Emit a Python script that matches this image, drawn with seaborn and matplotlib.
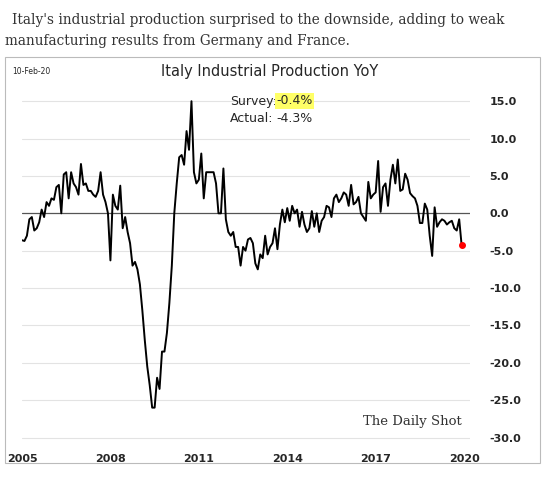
import numpy as np
import pandas as pd
import seaborn as sns
import matplotlib.pyplot as plt
from matplotlib.patches import Rectangle

# monthly YoY %, Jan 2005 .. Dec 2019
y2005 = [-3.6, -3.7, -3.0, -0.8, -0.5, -2.3, -2.0, -1.2, 0.5, -0.5, 1.5, 1.0]
y2006 = [2.0, 1.8, 3.5, 3.8, 0.0, 5.2, 5.5, 2.0, 5.5, 4.0, 3.5, 2.5]
y2007 = [6.6, 3.8, 4.0, 3.0, 3.0, 2.5, 2.2, 3.0, 5.5, 2.5, 1.5, 0.0]
y2008 = [-6.3, 2.5, 1.0, 0.5, 3.7, -2.0, -0.5, -2.5, -4.0, -7.0, -6.5, -7.5]
y2009 = [-9.5, -13.0, -17.0, -20.5, -23.0, -26.0, -26.0, -22.0, -23.5, -18.5, -18.5, -16.0]
y2010 = [-12.0, -7.0, 0.0, 4.0, 7.5, 7.8, 6.5, 11.0, 8.5, 15.0, 5.5, 4.0]
y2011 = [4.5, 8.0, 2.0, 5.5, 5.5, 5.5, 5.5, 4.0, 0.0, 0.0, 6.0, -0.8]
y2012 = [-2.5, -3.0, -2.5, -4.5, -4.5, -7.0, -4.5, -5.0, -3.5, -3.3, -4.0, -6.7]
y2013 = [-7.5, -5.5, -6.0, -3.0, -5.5, -4.5, -4.0, -2.0, -4.8, -1.5, 0.5, -1.2]
y2014 = [0.7, -1.0, 1.0, 0.0, 0.5, -1.8, 0.2, -1.5, -2.5, -2.0, 0.3, -1.8]
y2015 = [0.0, -2.5, -1.0, -0.5, 1.0, 0.8, -0.5, 2.0, 2.5, 1.5, 2.0, 2.8]
y2016 = [2.5, 1.0, 3.8, 1.2, 1.5, 2.2, 0.0, -0.5, -1.0, 4.2, 2.0, 2.5]
y2017 = [2.8, 7.0, 0.2, 3.5, 4.0, 1.0, 4.5, 6.5, 4.0, 7.2, 3.0, 3.2]
y2018 = [5.3, 4.5, 2.7, 2.3, 2.0, 1.0, -1.3, -1.3, 1.3, 0.5, -3.0, -5.7]
y2019 = [0.8, -1.8, -1.2, -0.8, -1.0, -1.5, -1.2, -1.0, -2.0, -2.3, -0.8, -4.3]

values = (y2005 + y2006 + y2007 + y2008 + y2009 + y2010 + y2011 + y2012 +
          y2013 + y2014 + y2015 + y2016 + y2017 + y2018 + y2019)
years = 2005 + np.arange(len(values)) / 12.0
df = pd.DataFrame({"t": years, "yoy": values})

sns.set_style("white")
plt.rcParams['font.family'] = ['DejaVu Sans']

fig = plt.figure(figsize=(5.49, 5.04), dpi=100)
W, H = 549, 504

fig.text(12 / W, 1 - 20 / H, "Italy's industrial production surprised to the downside, adding to weak",
         family='DejaVu Serif', fontsize=9.8, color='#333333', va='center')
fig.text(5 / W, 1 - 41 / H, "manufacturing results from Germany and France.",
         family='DejaVu Serif', fontsize=9.8, color='#333333', va='center')

fig.patches.append(Rectangle((5 / W, 1 - 463 / H), 535 / W, 406 / H, transform=fig.transFigure,
                             fill=False, edgecolor='#bbbbbb', lw=0.8))

ax = fig.add_axes([22 / W, 1 - 445 / H, 448 / W, 355 / H])
sns.lineplot(data=df, x="t", y="yoy", color='black', lw=1.4, ax=ax)
ax.plot(df["t"].iloc[-1], df["yoy"].iloc[-1], 'o', color='red', ms=4, zorder=5)

ax.set_xlim(2005, 2020.2)
ax.set_ylim(-31, 16.5)
ax.set_yticks(np.arange(-30, 16, 5))
ax.set_yticklabels([f"{v:.1f}" for v in np.arange(-30, 16, 5)], fontsize=8, fontweight='bold')
ax.yaxis.tick_right()
ax.tick_params(axis='y', length=0, pad=14)
ax.set_xticks([2005, 2008, 2011, 2014, 2017, 2020])
ax.set_xticklabels(['2005', '2008', '2011', '2014', '2017', '2020'], fontsize=8, fontweight='bold')
ax.tick_params(axis='x', length=3, color='#555555', direction='out')
for v in np.arange(-30, 16, 5):
    if v != 0:
        ax.axhline(v, color='#e3e3e3', lw=0.8, zorder=0)
ax.axhline(0, color='#555555', lw=0.9, zorder=1)
for s in ax.spines.values():
    s.set_visible(False)
ax.set_xlabel('')
ax.set_ylabel('')

fig.text(270 / W, 1 - 72 / H, "Italy Industrial Production YoY", ha='center', va='center', fontsize=10.5)
fig.text(12 / W, 1 - 72 / H, "10-Feb-20", ha='left', va='center', fontsize=5.5)
fig.text(230 / W, 1 - 101 / H, "Survey:", fontsize=9, va='center')
fig.text(276 / W, 1 - 101 / H, "-0.4%", fontsize=9, va='center',
         bbox=dict(facecolor='#ffff66', edgecolor='none', pad=1))
fig.text(230 / W, 1 - 118 / H, "Actual:", fontsize=9, va='center')
fig.text(276 / W, 1 - 118 / H, "-4.3%", fontsize=9, va='center')
fig.text(462 / W, 1 - 421 / H, "The Daily Shot", family='DejaVu Serif', fontsize=9.5,
         ha='right', va='center', color='#333333')

fig.savefig("out.png", dpi=100)
